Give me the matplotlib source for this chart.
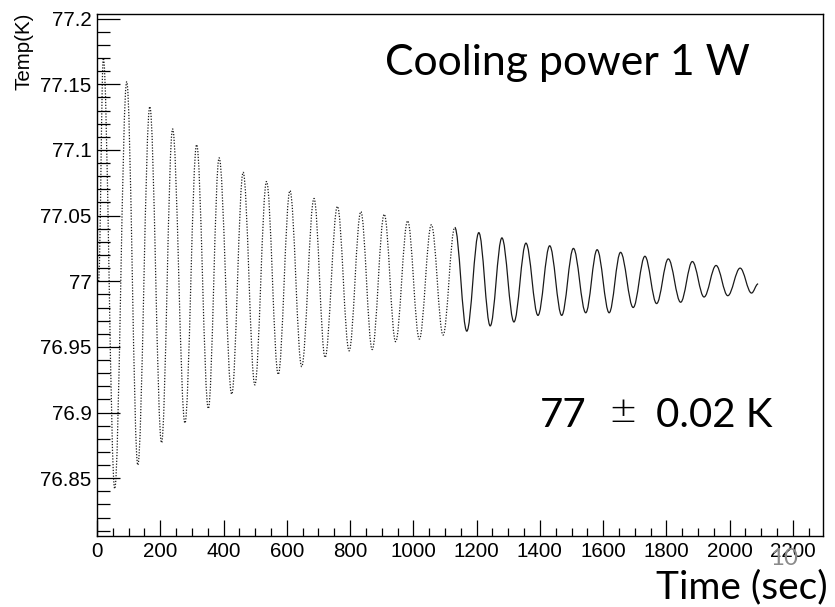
import matplotlib
matplotlib.use("Agg")
import matplotlib.pyplot as plt
from matplotlib.path import Path
from matplotlib.patches import PathPatch
from matplotlib.ticker import MultipleLocator, FixedLocator, FixedFormatter

# ---- data: extrema of the temperature oscillation ----
time_s = [5, 20, 56, 94, 129, 167, 204, 239, 278, 315,
          352, 386, 426, 462, 499, 536, 573, 610, 647, 686,
          721, 760, 797, 834, 870, 908, 944, 982, 1019, 1057,
          1094, 1131, 1169, 1207, 1243, 1280, 1318, 1356, 1394, 1431,
          1469, 1506, 1545, 1581, 1619, 1655, 1695, 1732, 1769, 1806,
          1845, 1882, 1919, 1957, 1994, 2033, 2069, 2090]
temp_K = [77.000, 77.170, 76.842, 77.152, 76.860, 77.133, 76.877, 77.116, 76.892, 77.104,
          76.903, 77.094, 76.914, 77.083, 76.921, 77.076, 76.929, 77.069, 76.935, 77.063,
          76.942, 77.057, 76.947, 77.053, 76.948, 77.051, 76.954, 77.046, 76.956, 77.043,
          76.959, 77.041, 76.962, 77.037, 76.966, 77.033, 76.969, 77.029, 76.974, 77.027,
          76.974, 77.025, 76.976, 77.024, 76.976, 77.022, 76.980, 77.019, 76.983, 77.017,
          76.984, 77.015, 76.988, 77.012, 76.989, 77.010, 76.991, 76.998]

xtick_values = [0, 200, 400, 600, 800, 1000, 1200, 1400, 1600, 1800, 2000, 2200]
xtick_labels = ["0", "200", "400", "600", "800", "1000", "1200", "1400", "1600", "1800", "2000", "2200"]
ytick_values = [76.85, 76.9, 76.95, 77.0, 77.05, 77.1, 77.15, 77.2]
ytick_labels = ["76.85", "76.9", "76.95", "77", "77.05", "77.1", "77.15", "77.2"]

title_text = "Cooling power 1 W"
result_value = "77"
result_pm = "\u00b1"
result_err = "0.02 K"
xlabel_text = "Time (sec)"
ylabel_text = "Temp(K)"
page_text = "10"

W, H = 835, 607
fig = plt.figure(figsize=(W / 100, H / 100), dpi=100)
fig.patch.set_facecolor("white")
ax = fig.add_axes([97 / W, 1 - 536 / H, (823 - 97) / W, (536 - 14) / H])
ax.set_xlim(0, 2295)
ax.set_ylim(76.806, 77.2035)


def smooth_path(ts, vs):
    k = 0.364
    verts = [(ts[0], vs[0])]
    codes = [Path.MOVETO]
    for i in range(len(ts) - 1):
        dt = ts[i + 1] - ts[i]
        verts += [(ts[i] + k * dt, vs[i]), (ts[i + 1] - k * dt, vs[i + 1]), (ts[i + 1], vs[i + 1])]
        codes += [Path.CURVE4] * 3
    return Path(verts, codes)


split = 31
p1 = smooth_path(time_s[:split + 1], temp_K[:split + 1])
p2 = smooth_path(time_s[split:], temp_K[split:])
ax.add_patch(PathPatch(p1, fill=False, edgecolor="#1a1a1a", lw=0.9,
                       linestyle=(0, (1.0, 1.3)), transform=ax.transData))
ax.add_patch(PathPatch(p2, fill=False, edgecolor="#1a1a1a", lw=0.9,
                       transform=ax.transData))

ax.xaxis.set_major_locator(FixedLocator(xtick_values))
ax.xaxis.set_major_formatter(FixedFormatter(xtick_labels))
ax.xaxis.set_minor_locator(MultipleLocator(50))
ax.yaxis.set_major_locator(FixedLocator(ytick_values))
ax.yaxis.set_major_formatter(FixedFormatter(ytick_labels))
ax.yaxis.set_minor_locator(MultipleLocator(0.01))
ax.tick_params(axis="x", which="major", direction="in", length=11.5, width=0.9, pad=4)
ax.tick_params(axis="x", which="minor", direction="in", length=5.8, width=0.9)
ax.tick_params(axis="y", which="major", direction="in", length=16.5, width=0.9, pad=4)
ax.tick_params(axis="y", which="minor", direction="in", length=9.4, width=0.9)
for lab in ax.get_xticklabels() + ax.get_yticklabels():
    lab.set_fontfamily("Liberation Sans")
    lab.set_fontsize(14.8)
for s in ax.spines.values():
    s.set_linewidth(1.0)
    s.set_color("black")

fig.text(24 / W, 1 - 13 / H, ylabel_text, rotation=90, ha="center", va="top",
         fontfamily="Liberation Sans", fontsize=14.8)

t1 = fig.text(385 / W, 1 - 75 / H, title_text, ha="left", va="baseline",
              fontfamily="Lato", fontsize=30)
fig.text(540 / W, 1 - 427 / H, result_value, ha="left", va="baseline",
         fontfamily="Lato", fontsize=29)
t2b = fig.text(608 / W, 1 - 422 / H, result_pm, ha="left", va="baseline",
               fontfamily="DejaVu Sans", fontweight="light", fontsize=25)
fig.text(656 / W, 1 - 427 / H, result_err, ha="left", va="baseline",
         fontfamily="Lato", fontsize=29)
t3 = fig.text(828 / W, 1 - 598 / H, xlabel_text, ha="right", va="baseline",
              fontfamily="Lato", fontsize=26)
t4 = fig.text(770 / W, 1 - 565 / H, page_text, ha="left", va="baseline",
              fontfamily="Lato", fontsize=18, color="#8a8a8a")

fig.canvas.draw()
r = fig.canvas.get_renderer()
for t, target in [(t1, 365), (t2b, 29), (t3, 171), (t4, 28)]:
    w = t.get_window_extent(r).width
    t.set_fontsize(t.get_fontsize() * target / w)

fig.savefig("out.png", dpi=100, facecolor="white")
